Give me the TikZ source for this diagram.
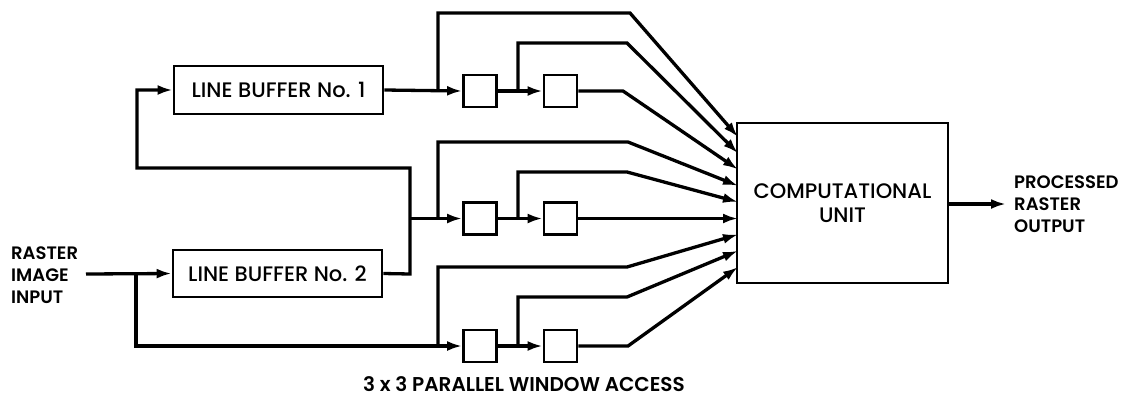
\documentclass[tikz,border=0pt]{standalone}
\usepackage{fontspec}
\setmainfont{Poppins}[UprightFont=* Medium,BoldFont=* SemiBold]
\usetikzlibrary{arrows.meta}
\begin{document}
\begin{tikzpicture}[x=1pt,y=-1pt,
  wire/.style={line width=3.3pt,line join=miter},
  arr/.style={wire,-{Latex[length=15pt,width=10pt]}},
  bigbox/.style={draw,line width=2.8pt,inner sep=0pt,font=\fontsize{21}{24}\selectfont},
  cell/.style={draw,line width=2.8pt,inner sep=0pt,minimum width=33pt,minimum height=32pt},
  lbl/.style={font=\bfseries\fontsize{18}{22}\selectfont,align=left,inner sep=0pt}]
\useasboundingbox (0,0) rectangle (1134,397);
% boxes
\node[bigbox,minimum width=209pt,minimum height=48pt] (lb1) at (278.5,90) {LINE BUFFER No. 1};
\node[bigbox,minimum width=209pt,minimum height=47pt] (lb2) at (277.5,273.5) {LINE BUFFER No. 2};
\node[bigbox,minimum width=211pt,minimum height=160pt,align=center] (cu) at (842.5,203) {COMPUTATIONAL\\UNIT};
\node[cell] (a1) at (480,91) {};
\node[cell] (a2) at (560.5,91) {};
\node[cell] (b1) at (480,218.5) {};
\node[cell] (b2) at (560.5,218.5) {};
\node[cell] (c1) at (480,346) {};
\node[cell] (c2) at (560.5,346) {};
% labels
\node[lbl,anchor=west] (inl) at (11,275) {RASTER\\IMAGE\\INPUT};
\node[lbl,anchor=west] (outl) at (1014,204) {PROCESSED\\RASTER\\OUTPUT};
\node[lbl,font=\bfseries\fontsize{20}{22}\selectfont,anchor=base,text depth=0pt] (cap) at (524,391) {3 x 3 PARALLEL WINDOW ACCESS};
% coordinates
\coordinate (inp) at (86,274);
\coordinate (jin) at (136,274);
\coordinate (out) at (1006,204);
\coordinate (e1) at (738,137);
\coordinate (e2) at (738,153.25);
\coordinate (e3) at (738,169.5);
\coordinate (e4) at (738,185.75);
\coordinate (e5) at (738,202);
\coordinate (e6) at (738,218.5);
\coordinate (e7) at (738,234.5);
\coordinate (e8) at (738,250.75);
\coordinate (e9) at (738,267);
% input
\draw[arr] (inp) -- (lb2.west);
\draw[arr] (jin) |- (c1.west);
% feedback from LB2 to LB1 and middle row
\draw[arr] (lb2.east) -- (410,274) -- (410,168) -- (137,168) -- (137,90) -- (lb1.west);
\draw[arr] (410,218.5) -- (b1.west);
% top row
\draw[arr] (lb1.east) -- (a1.west);
\draw[arr] (a1.east) -- (a2.west);
\draw[arr] (438,91) -- (438,13) -- (630,13) -- (e1);
\draw[arr] (518,91) -- (518,43) -- (627,43) -- (e2);
\draw[arr] (a2.east) -- (623,91) -- (e3);
% middle row
\draw[arr] (b1.east) -- (b2.west);
\draw[arr] (438,218.5) -- (438,142) -- (628,142) -- (e4);
\draw[arr] (518,218.5) -- (518,172) -- (627,172) -- (e5);
\draw[arr] (b2.east) -- (e6);
% bottom row
\draw[arr] (c1.east) -- (c2.west);
\draw[arr] (438,346) -- (438,267) -- (627,267) -- (e7);
\draw[arr] (518,346) -- (518,297) -- (627,297) -- (e8);
\draw[arr] (c2.east) -- (628,346) -- (e9);
% output
\draw[arr] (cu.east |- out) -- (out);
\end{tikzpicture}
\end{document}
